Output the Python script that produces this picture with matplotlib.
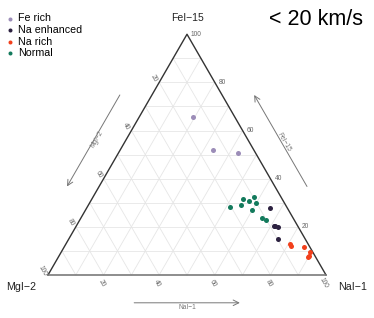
import matplotlib
matplotlib.use('Agg')
import matplotlib.pyplot as plt
import numpy as np

plt.rcParams['font.family'] = ['Liberation Sans', 'DejaVu Sans']

# composiciones (porcentaje): FeI-15, MgI-2, NaI-1
fe_rich_fe = [65.6, 51.8, 50.7]
fe_rich_mg = [14.9, 14.7, 6.4]
fe_rich_na = [19.5, 33.5, 42.9]

na_enh_fe = [28.0, 20.4, 20.5, 19.8, 14.8]
na_enh_mg = [6.0, 8.5, 8.1, 7.5, 10.0]
na_enh_na = [66.0, 71.1, 71.4, 72.7, 75.2]

na_rich_fe = [12.8, 12.1, 11.8, 9.7, 8.0, 7.4]
na_rich_mg = [6.5, 6.5, 2.0, 0.9, 2.0, 2.7]
na_rich_na = [80.7, 81.4, 86.2, 89.4, 90.0, 89.9]

normal_fe = [28.1, 31.6, 32.3, 30.9, 30.0, 29.2, 26.9, 23.7, 22.7]
normal_mg = [20.5, 13.9, 9.7, 12.2, 10.3, 16.0, 13.3, 11.3, 10.2]
normal_na = [51.4, 54.5, 58.0, 56.9, 59.7, 54.8, 59.8, 65.0, 67.1]

groups = ['Fe rich', 'Na enhanced', 'Na rich', 'Normal']
colors = ['#9c8db8', '#2c2140', '#f2401c', '#137a5c']
tick_vals = [20, 40, 60, 80, 100]

H = np.sqrt(3) / 2


def tern(fe, mg, na):
    fe = np.asarray(fe, float)
    mg = np.asarray(mg, float)
    na = np.asarray(na, float)
    s = fe + mg + na
    fe, na = fe / s, na / s
    return na + fe / 2, fe * H


fig = plt.figure(figsize=(3.74, 3.18), dpi=100)
ax = fig.add_axes([0, 0, 1, 1])
ax.set_xlim(-48 / 278, 326 / 278)
ax.set_ylim(-43 / 278, 275 / 278)
ax.axis('off')

# rejilla
for v in range(10, 100, 10):
    f = v / 100
    # Fe constante
    x0, y0 = tern(f, 1 - f, 0)
    x1, y1 = tern(f, 0, 1 - f)
    ax.plot([x0, x1], [y0, y1], color='#e6e6e6', lw=0.6, zorder=1)
    # Mg constante
    x0, y0 = tern(0, f, 1 - f)
    x1, y1 = tern(1 - f, f, 0)
    ax.plot([x0, x1], [y0, y1], color='#e6e6e6', lw=0.6, zorder=1)
    # Na constante
    x0, y0 = tern(0, 1 - f, f)
    x1, y1 = tern(1 - f, 0, f)
    ax.plot([x0, x1], [y0, y1], color='#e6e6e6', lw=0.6, zorder=1)

# bordes
L = tern(0, 1, 0)
R = tern(0, 0, 1)
T = tern(1, 0, 0)
ax.plot([L[0], T[0], R[0]], [L[1], T[1], R[1]], color='#333333', lw=1.0, zorder=2)
ax.plot([L[0], R[0]], [L[1], R[1]], color='#7a7a7a', lw=1.2, zorder=2)

# etiquetas de ticks
for v in tick_vals:
    f = v / 100
    x, y = tern(f, 0, 1 - f)
    ax.annotate(str(v), (x, y), xytext=(4, 0), textcoords='offset pixels',
                ha='left', va='center', fontsize=4.8, color='#666666')
    x, y = tern(1 - f, f, 0)
    ax.annotate(str(v), (x, y), xytext=(-5, 4), textcoords='offset pixels',
                ha='center', va='center', fontsize=4.8, color='#666666', rotation=-60)
    x, y = tern(0, 1 - f, f)
    ax.annotate(str(v), (x, y), xytext=(-2, -8), textcoords='offset pixels',
                ha='center', va='center', fontsize=4.8, color='#666666', rotation=-60)

# flechas
off = 0.1
ax.annotate('', xy=(0.15 - off * H, 0.3 * H + off / 2), xytext=(0.35 - off * H, 0.7 * H + off / 2),
            arrowprops=dict(arrowstyle='->', color='#777777', lw=0.7))
ax.text(0.25 - off * H + 0.012, 0.5 * H + off / 2 + 0.007, 'MgI\u22122', rotation=60,
        ha='center', va='center', fontsize=4.8, color='#777777')
ax.annotate('', xy=(0.65 + off * H, 0.7 * H + off / 2), xytext=(0.85 + off * H, 0.3 * H + off / 2),
            arrowprops=dict(arrowstyle='->', color='#777777', lw=0.7))
ax.text(0.75 + off * H + 0.012, 0.5 * H + off / 2 - 0.007, 'FeI\u221215', rotation=-60,
        ha='center', va='center', fontsize=4.8, color='#777777')
ax.annotate('', xy=(0.7, -off), xytext=(0.3, -off),
            arrowprops=dict(arrowstyle='->', color='#777777', lw=0.7))
ax.text(0.5, -off - 0.018, 'NaI\u22121', ha='center', va='center', fontsize=4.8, color='#777777')

# titulos de vertices
ax.text(T[0], T[1] + 0.06, 'FeI\u221215', ha='center', va='center', fontsize=7.5, color='#222222')
ax.text(L[0] - 0.097, L[1] - 0.043, 'MgI\u22122', ha='center', va='center', fontsize=7.7, color='#222222')
ax.text(R[0] + 0.097, R[1] - 0.043, 'NaI\u22121', ha='center', va='center', fontsize=7.7, color='#222222')

# puntos
data = [(fe_rich_fe, fe_rich_mg, fe_rich_na),
        (na_enh_fe, na_enh_mg, na_enh_na),
        (na_rich_fe, na_rich_mg, na_rich_na),
        (normal_fe, normal_mg, normal_na)]
for (fe, mg, na), name, c in zip(data, groups, colors):
    x, y = tern(fe, mg, na)
    ax.scatter(x, y, s=13, color=c, label=name, zorder=3, linewidths=0)

ax.legend(loc='upper left', bbox_to_anchor=(0.0, 0.978), frameon=False, fontsize=7.7,
          handlelength=0.6, handletextpad=0.5, labelspacing=0.15, borderaxespad=0.2,
          markerscale=0.8)

fig.text(0.97, 0.94, '< 20 km/s', ha='right', va='center', fontsize=15.5, color='black')

fig.savefig('out.png', dpi=100)
